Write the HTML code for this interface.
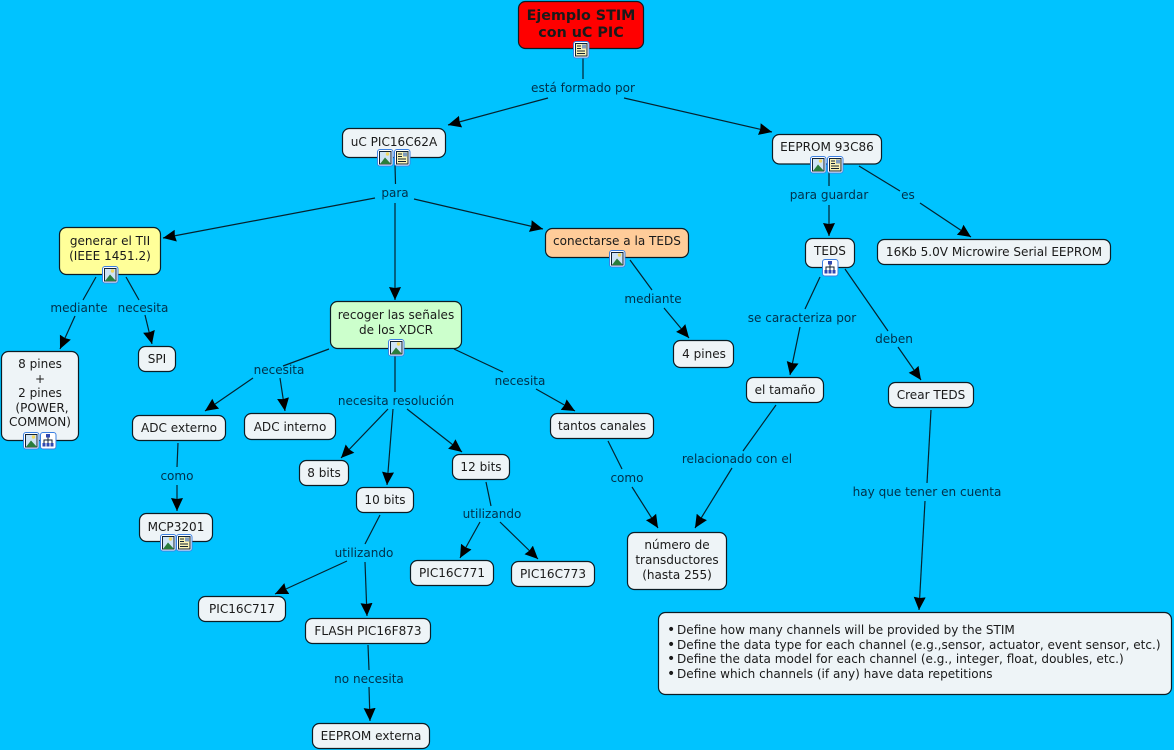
<!DOCTYPE html>
<html><head><meta charset="utf-8"><style>
html,body{margin:0;padding:0;background:#00c3ff}
svg{display:block}
text{font-family:"DejaVu Sans","Liberation Sans",sans-serif;font-size:12.05px;text-anchor:middle;fill:#1a1a1a}
.l{fill:#00304a}
.n{fill:#eef4f7;stroke:#0c1c24;stroke-width:1.2}
.c{fill:none;stroke:#05222e;stroke-width:1.2}
</style></head><body>
<svg width="1174" height="750" viewBox="0 0 1174 750" xmlns="http://www.w3.org/2000/svg">
<defs>
<marker id="a" markerUnits="userSpaceOnUse" markerWidth="16" markerHeight="14" refX="13" refY="6.5" orient="auto"><path d="M0 0.500L13 6.5L0 12.500L1 6.5Z" fill="#000"/></marker>
<g id="base"><rect x=".5" y=".5" width="15.500" height="16.500" rx="2.5" fill="#fff" stroke="#3b7fe0"/></g>
<g id="img"><use href="#base"/><rect x="2.5" y="2.5" width="11.500" height="12.500" fill="#cfe4f5" stroke="#123"/><path d="M3 15L8 8.5L14 15Z" fill="#2a7d3c"/><circle cx="10.5" cy="5" r="1.7" fill="#f2d860"/></g>
<g id="doc"><use href="#base"/><rect x="2.5" y="2.5" width="11.500" height="12.500" fill="#fbf3b5" stroke="#123"/><path d="M4 5H8M4 7.5H8M4 10H12M4 12.500H12" stroke="#123"/><rect x="9" y="3.500" width="4" height="4" fill="#7f9bc0"/></g>
<g id="map"><use href="#base"/><path d="M8 5V8M4 11V8H12V11M8 8V11" stroke="#123" fill="none"/><rect x="6" y="2" width="4" height="3.500" fill="#3148b0"/><rect x="2.500" y="11" width="3" height="3.500" fill="#3148b0"/><rect x="6.500" y="11" width="3" height="3.500" fill="#3148b0"/><rect x="10.500" y="11" width="3" height="3.500" fill="#3148b0"/></g>
</defs>
<rect width="1174" height="750" fill="#00c3ff"/>

<!-- connectors -->
<g class="c">
<path class="c" d="M583 57V79"/>
<path class="c" d="M548 98L448 125" marker-end="url(#a)"/>
<path class="c" d="M624 98L772 132" marker-end="url(#a)"/>
<path class="c" d="M395 165L395.500 184"/>
<path class="c" d="M375 198L163 238" marker-end="url(#a)"/>
<path class="c" d="M395 203V300" marker-end="url(#a)"/>
<path class="c" d="M414 199L543 229" marker-end="url(#a)"/>
<path class="c" d="M96 277L83 300"/>
<path class="c" d="M75 316L60 349" marker-end="url(#a)"/>
<path class="c" d="M126 277L139 300"/>
<path class="c" d="M145 315L152 344" marker-end="url(#a)"/>
<path class="c" d="M329 349L283 366"/>
<path class="c" d="M253 378L205 411" marker-end="url(#a)"/>
<path class="c" d="M280 378L285 411" marker-end="url(#a)"/>
<path class="c" d="M395 349V392"/>
<path class="c" d="M388 409L341 458" marker-end="url(#a)"/>
<path class="c" d="M393 409L387 485" marker-end="url(#a)"/>
<path class="c" d="M407 409L462 452" marker-end="url(#a)"/>
<path class="c" d="M454 349L503 372"/>
<path class="c" d="M536 389L575 411" marker-end="url(#a)"/>
<path class="c" d="M178 443L177 467"/>
<path class="c" d="M177 485V511" marker-end="url(#a)"/>
<path class="c" d="M380 515L365 544"/>
<path class="c" d="M347 561L275 594" marker-end="url(#a)"/>
<path class="c" d="M365 562L367 616" marker-end="url(#a)"/>
<path class="c" d="M486 482L491 506"/>
<path class="c" d="M480 522L460 558" marker-end="url(#a)"/>
<path class="c" d="M500 522L538 559" marker-end="url(#a)"/>
<path class="c" d="M368 645L369 670"/>
<path class="c" d="M369 687L370 721" marker-end="url(#a)"/>
<path class="c" d="M630 260L652 290"/>
<path class="c" d="M664 308L689 338" marker-end="url(#a)"/>
<path class="c" d="M608 441L622 469"/>
<path class="c" d="M632 487L658 528" marker-end="url(#a)"/>
<path class="c" d="M829 172V186"/>
<path class="c" d="M829 205V236" marker-end="url(#a)"/>
<path class="c" d="M859 166L900 191"/>
<path class="c" d="M920 203L971 237" marker-end="url(#a)"/>
<path class="c" d="M820 277L805 309"/>
<path class="c" d="M800 327L790 375" marker-end="url(#a)"/>
<path class="c" d="M845 269L888 331"/>
<path class="c" d="M898 347L921 380" marker-end="url(#a)"/>
<path class="c" d="M776 405L743 451"/>
<path class="c" d="M732 468L695 528" marker-end="url(#a)"/>
<path class="c" d="M931 410L927 483"/>
<path class="c" d="M925 501L919 610" marker-end="url(#a)"/>
</g>

<!-- nodes -->
<rect class="n" x="518.500" y="1.500" width="125" height="47" rx="7" style="fill:#ff0000"/>
<rect class="n" x="342.500" y="128.500" width="103" height="29" rx="7"/>
<rect class="n" x="772.500" y="134.500" width="109" height="29.500" rx="7"/>
<rect class="n" x="59.500" y="227.500" width="101" height="47" rx="7" style="fill:#ffff99"/>
<rect class="n" x="330.500" y="301.500" width="131" height="47" rx="7" style="fill:#ccffcc"/>
<rect class="n" x="545.500" y="228.500" width="143" height="29" rx="7" style="fill:#ffcc99"/>
<rect class="n" x="805.500" y="238.500" width="49" height="29" rx="7"/>
<rect class="n" x="877.500" y="239.500" width="233" height="25" rx="7"/>
<rect class="n" x="1.500" y="351.500" width="77" height="89" rx="7"/>
<rect class="n" x="138.500" y="346.500" width="37" height="25" rx="7"/>
<rect class="n" x="673.500" y="340.500" width="60" height="27" rx="7"/>
<rect class="n" x="132.500" y="415.500" width="93" height="25" rx="7"/>
<rect class="n" x="244.500" y="413.500" width="91" height="26" rx="7"/>
<rect class="n" x="550.500" y="413.500" width="103" height="25" rx="7"/>
<rect class="n" x="746.500" y="377.500" width="77" height="25" rx="7"/>
<rect class="n" x="888.500" y="382.500" width="85" height="25" rx="7"/>
<rect class="n" x="299.500" y="460.500" width="49" height="25" rx="7"/>
<rect class="n" x="356.500" y="487.500" width="57" height="25" rx="7"/>
<rect class="n" x="452.500" y="454.500" width="57" height="25" rx="7"/>
<rect class="n" x="139.500" y="513.500" width="73" height="28" rx="7"/>
<rect class="n" x="198.500" y="596.500" width="87" height="25" rx="7"/>
<rect class="n" x="305.500" y="618.500" width="125" height="25" rx="7"/>
<rect class="n" x="410.500" y="560.500" width="83" height="25" rx="7"/>
<rect class="n" x="511.500" y="561.500" width="83" height="25" rx="7"/>
<rect class="n" x="627.500" y="532.500" width="99" height="57" rx="7"/>
<rect class="n" x="312.500" y="723.500" width="117" height="25" rx="7"/>
<rect class="n" x="658.500" y="612.500" width="513" height="82" rx="7"/>

<!-- icons -->
<use href="#doc" x="573" y="41"/>
<use href="#img" x="377" y="149"/><use href="#doc" x="394" y="149"/>
<use href="#img" x="810" y="156"/><use href="#doc" x="827" y="156"/>
<use href="#map" x="822" y="259"/>
<use href="#img" x="102" y="266"/>
<use href="#img" x="23" y="432"/><use href="#map" x="40" y="432"/>
<use href="#img" x="388" y="339"/>
<use href="#img" x="609" y="250"/>
<use href="#img" x="160" y="534"/><use href="#doc" x="176" y="534"/>

<!-- node text -->
<text x="581" y="20" style="font-weight:bold;font-size:14.300px">Ejemplo STIM</text>
<text x="581" y="37" style="font-weight:bold;font-size:14.300px">con uC PIC</text>
<text x="394" y="146">uC PIC16C62A</text>
<text x="827" y="151">EEPROM 93C86</text>
<text x="110" y="245">generar el TII</text>
<text x="110" y="260">(IEEE 1451.2)</text>
<text x="396" y="319">recoger las señales</text>
<text x="396" y="334">de los XDCR</text>
<text x="617" y="245">conectarse a la TEDS</text>
<text x="830" y="255">TEDS</text>
<text x="994" y="256">16Kb 5.0V Microwire Serial EEPROM</text>
<text x="40" y="368">8 pines</text>
<text x="40" y="383">+</text>
<text x="40" y="397">2 pines</text>
<text x="42" y="412">(POWER,</text>
<text x="40" y="426">COMMON)</text>
<text x="157" y="363">SPI</text>
<text x="704" y="358">4 pines</text>
<text x="179" y="432">ADC externo</text>
<text x="290" y="431">ADC interno</text>
<text x="602" y="430">tantos canales</text>
<text x="785" y="394">el tamaño</text>
<text x="931" y="399">Crear TEDS</text>
<text x="324" y="477">8 bits</text>
<text x="385" y="504">10 bits</text>
<text x="481" y="471">12 bits</text>
<text x="176" y="531">MCP3201</text>
<text x="242" y="613">PIC16C717</text>
<text x="368" y="635">FLASH PIC16F873</text>
<text x="452" y="577">PIC16C771</text>
<text x="553" y="578">PIC16C773</text>
<text x="677" y="549">número de</text>
<text x="677" y="564">transductores</text>
<text x="677" y="579">(hasta 255)</text>
<text x="371" y="740">EEPROM externa</text>
<g style="text-anchor:start">
<text x="667" y="634" style="text-anchor:start;font-size:14px">•</text><text x="677" y="634" style="text-anchor:start">Define how many channels will be provided by the STIM</text>
<text x="667" y="649" style="text-anchor:start;font-size:14px">•</text><text x="677" y="649" style="text-anchor:start">Define the data type for each channel (e.g.,sensor, actuator, event sensor, etc.)</text>
<text x="667" y="663" style="text-anchor:start;font-size:14px">•</text><text x="677" y="663" style="text-anchor:start">Define the data model for each channel (e.g., integer, float, doubles, etc.)</text>
<text x="667" y="678" style="text-anchor:start;font-size:14px">•</text><text x="677" y="678" style="text-anchor:start">Define which channels (if any) have data repetitions</text>
</g>

<!-- linking phrases -->
<text class="l" x="583" y="92">está formado por</text>
<text class="l" x="395" y="197">para</text>
<text class="l" x="79" y="312">mediante</text>
<text class="l" x="143" y="312">necesita</text>
<text class="l" x="279" y="374">necesita</text>
<text class="l" x="396" y="405">necesita resolución</text>
<text class="l" x="520" y="385">necesita</text>
<text class="l" x="177" y="480">como</text>
<text class="l" x="364" y="557">utilizando</text>
<text class="l" x="492" y="518">utilizando</text>
<text class="l" x="369" y="683">no necesita</text>
<text class="l" x="653" y="303">mediante</text>
<text class="l" x="627" y="482">como</text>
<text class="l" x="829" y="199">para guardar</text>
<text class="l" x="908" y="199">es</text>
<text class="l" x="802" y="322">se caracteriza por</text>
<text class="l" x="894" y="343">deben</text>
<text class="l" x="737" y="463">relacionado con el</text>
<text class="l" x="927" y="496">hay que tener en cuenta</text>
</svg>
</body></html>
